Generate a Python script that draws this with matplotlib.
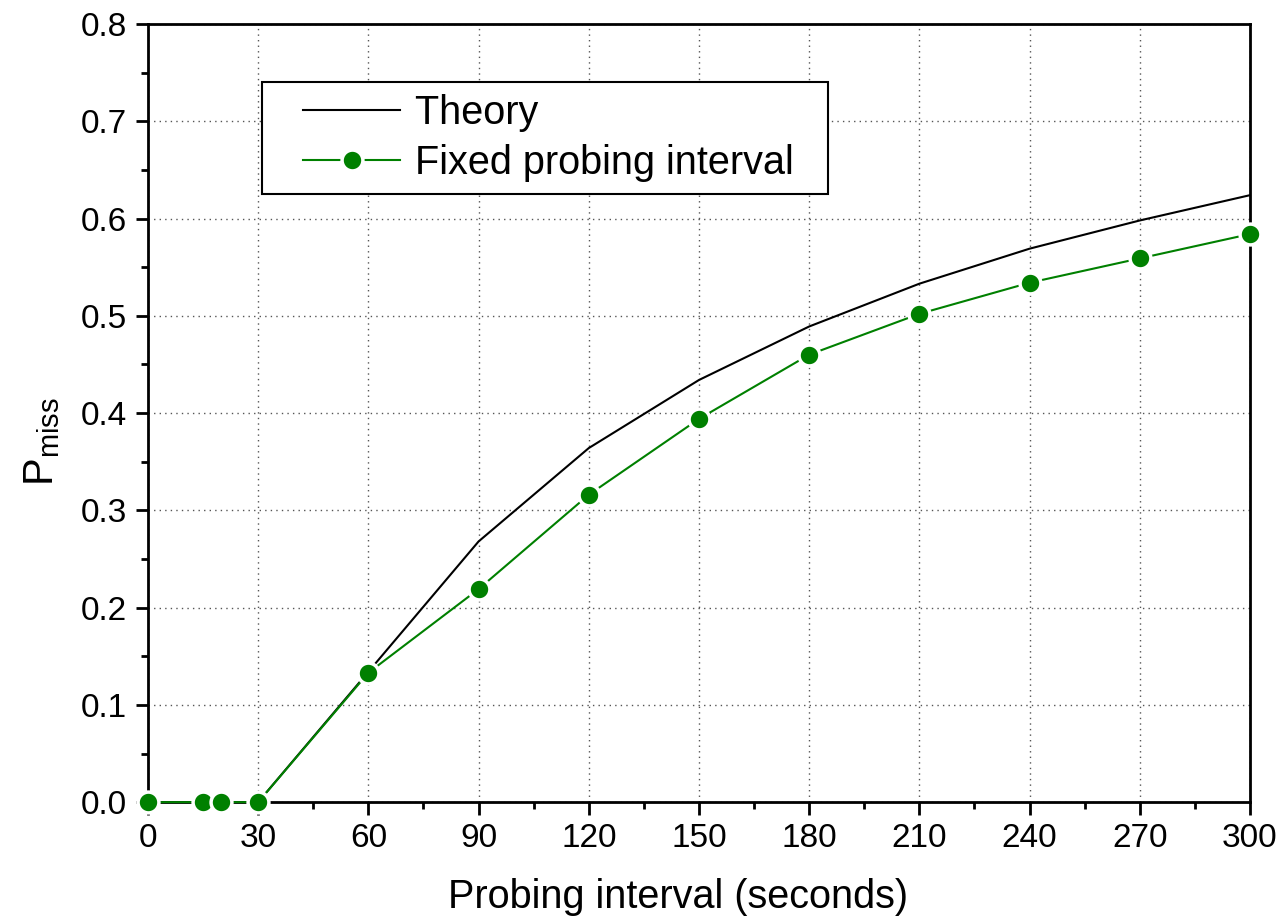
import matplotlib
matplotlib.use("Agg")
import matplotlib.pyplot as plt
from matplotlib.ticker import MultipleLocator
from matplotlib.legend_handler import HandlerLine2D

plt.rcParams["font.family"] = ["Liberation Sans", "DejaVu Sans"]
plt.rcParams["mathtext.fontset"] = "custom"
plt.rcParams["mathtext.rm"] = "Liberation Sans"
plt.rcParams["mathtext.it"] = "Liberation Sans"

# data
theory_x = [0, 30, 60, 90, 120, 150, 180, 210, 240, 270, 300]
theory_y = [0.0, 0.0, 0.134, 0.268, 0.364, 0.434, 0.489, 0.533, 0.569, 0.598, 0.624]

fixed_x = [0, 15, 20, 30, 60, 90, 120, 150, 180, 210, 240, 270, 300]
fixed_y = [0.0, 0.0, 0.0, 0.0, 0.133, 0.219, 0.316, 0.394, 0.460, 0.502, 0.534, 0.559, 0.584]

fig = plt.figure(figsize=(12.81, 9.22), dpi=100)
ax = fig.add_axes([0.1155, 0.130, 0.8603, 0.844])

ax.plot(theory_x, theory_y, color="black", lw=1.5, label="Theory")
ax.plot(fixed_x, fixed_y, color="#008000", lw=1.5, marker="o", ms=15,
        mec="white", mew=2.5, label="Fixed probing interval", clip_on=False, zorder=3)

ax.set_xlim(0, 300)
ax.set_ylim(0, 0.8)
ax.xaxis.set_major_locator(MultipleLocator(30))
ax.xaxis.set_minor_locator(MultipleLocator(15))
ax.yaxis.set_major_locator(MultipleLocator(0.1))
ax.yaxis.set_minor_locator(MultipleLocator(0.05))
ax.yaxis.set_major_formatter(plt.FuncFormatter(lambda v, p: f"{v:.1f}"))

ax.tick_params(which="major", direction="out", length=9, width=2, labelsize=24, pad=6)
ax.tick_params(which="minor", direction="out", length=5, width=2)
for s in ax.spines.values():
    s.set_linewidth(2)

ax.grid(True, which="major", linestyle=(0, (1, 3)), color="#555555", lw=1)

# labels sit a bit off-centre in the original
ax.set_xlabel("Probing interval (seconds)", fontsize=28.5)
ax.xaxis.set_label_coords(0.481, -0.098)
ax.set_ylabel(r"P$_{\mathrm{miss}}$", fontsize=30)
ax.yaxis.set_label_coords(-0.078, 0.463)

hm = {l: HandlerLine2D(xpad=0.75) for l in ax.get_lines()}
leg = ax.legend(handler_map=hm, loc="upper left", bbox_to_anchor=(0.1034, 0.925),
                borderaxespad=0, fontsize=28.5, fancybox=False, framealpha=1,
                edgecolor="black", handlelength=3.2, handletextpad=0.38,
                borderpad=0.3, labelspacing=0.3)
leg.get_frame().set_linewidth(1.5)
for t in leg.get_texts():
    t.set_text(t.get_text() + "  ")

fig.savefig("out.png", dpi=100)
